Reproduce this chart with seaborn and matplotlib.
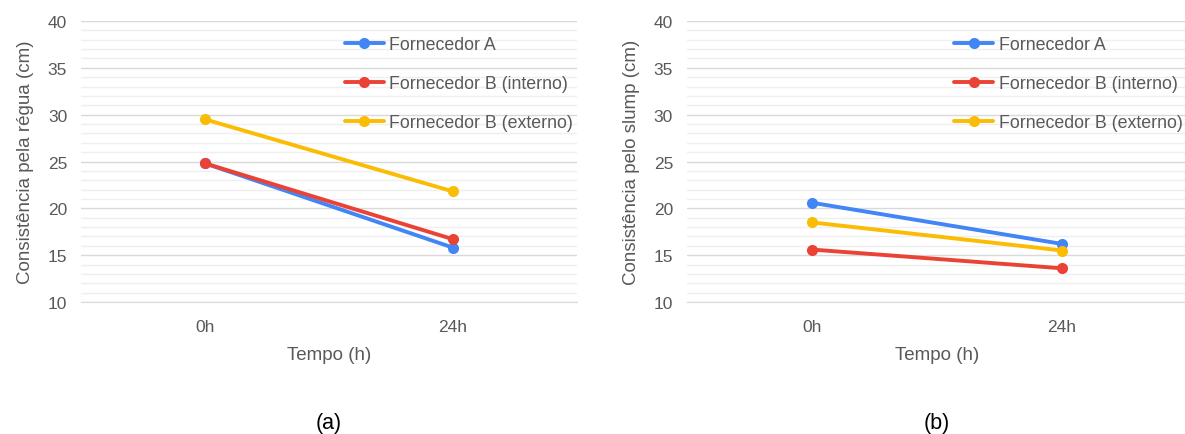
import numpy as np
import pandas as pd
import matplotlib
matplotlib.use("Agg")
import matplotlib.pyplot as plt
import seaborn as sns

tempos = ["0h", "24h"]
fornecedores = ["Fornecedor A", "Fornecedor B (interno)", "Fornecedor B (externo)"]

# (a) consistencia pela regua
regua_a = [24.8, 15.8]
regua_b_int = [24.8, 16.7]
regua_b_ext = [29.5, 21.8]

# (b) consistencia pelo slump
slump_a = [20.6, 16.2]
slump_b_int = [15.6, 13.6]
slump_b_ext = [18.5, 15.5]

cores = ["#4285F4", "#EA4335", "#FBBC04"]
grey = "#595959"

sns.set_style("white")
plt.rcParams["font.family"] = ["Liberation Sans", "DejaVu Sans"]


def to_long(series):
    rows = []
    for nome, vals in zip(fornecedores, series):
        for t, v in zip(tempos, vals):
            rows.append({"Tempo": t, "Valor": v, "Fornecedor": nome})
    return pd.DataFrame(rows)


df_a = to_long([regua_a, regua_b_int, regua_b_ext])
df_b = to_long([slump_a, slump_b_int, slump_b_ext])

fig = plt.figure(figsize=(11.85, 4.35), dpi=100)
ax_a = fig.add_axes([0.0684, 0.3034, 0.4186, 0.646])
ax_b = fig.add_axes([0.5797, 0.3034, 0.422, 0.646])


def draw(ax, df, ylabel, caption, leg_x):
    sns.lineplot(
        data=df, x="Tempo", y="Valor", hue="Fornecedor",
        hue_order=fornecedores, palette=cores, marker="o",
        markersize=8, markeredgewidth=0, linewidth=2.8,
        sort=False, ax=ax, zorder=3
    )
    ax.set_xlim(-0.5, 1.5)
    ax.set_ylim(10, 40)
    ax.set_yticks(np.arange(10, 41, 5))
    ax.set_yticks(np.arange(10, 41, 1), minor=True)
    ax.grid(axis="y", which="minor", color="#efefef", linewidth=1, zorder=0)
    ax.grid(axis="y", which="major", color="#d9d9d9", linewidth=1, zorder=0)
    ax.set_axisbelow(True)
    for s in ["top", "right", "left"]:
        ax.spines[s].set_visible(False)
    ax.spines["bottom"].set_color("#d9d9d9")
    ax.set_xticks([0, 1])
    ax.set_xticklabels(tempos)
    ax.set_xticks([-0.5, 0.5, 1.5], minor=True)
    ax.tick_params(axis="x", which="major", length=0, pad=12, labelsize=12.5, labelcolor=grey)
    ax.tick_params(axis="x", which="minor", length=5, color="#d9d9d9", width=1)
    ax.tick_params(axis="y", which="both", length=0, pad=10, labelsize=12.5, labelcolor=grey)
    ax.set_xlabel("Tempo (h)", fontsize=13.5, color=grey, labelpad=9)
    ax.set_ylabel(ylabel, fontsize=13.5, color=grey, labelpad=10)
    ax.legend(
        loc="upper left", bbox_to_anchor=(leg_x, 0.972), frameon=False,
        fontsize=12.8, labelcolor=grey, labelspacing=1.25,
        handlelength=2.2, handletextpad=0.3, borderaxespad=0
    )
    ax.text(0.5, -0.39, caption, transform=ax.transAxes, ha="center",
            va="top", fontsize=15.5, color="black")


draw(ax_a, df_a, "Consistência pela régua (cm)", "(a)", 0.517)
draw(ax_b, df_b, "Consistência pelo slump (cm)", "(b)", 0.52)

plt.savefig("out.png", dpi=100)
